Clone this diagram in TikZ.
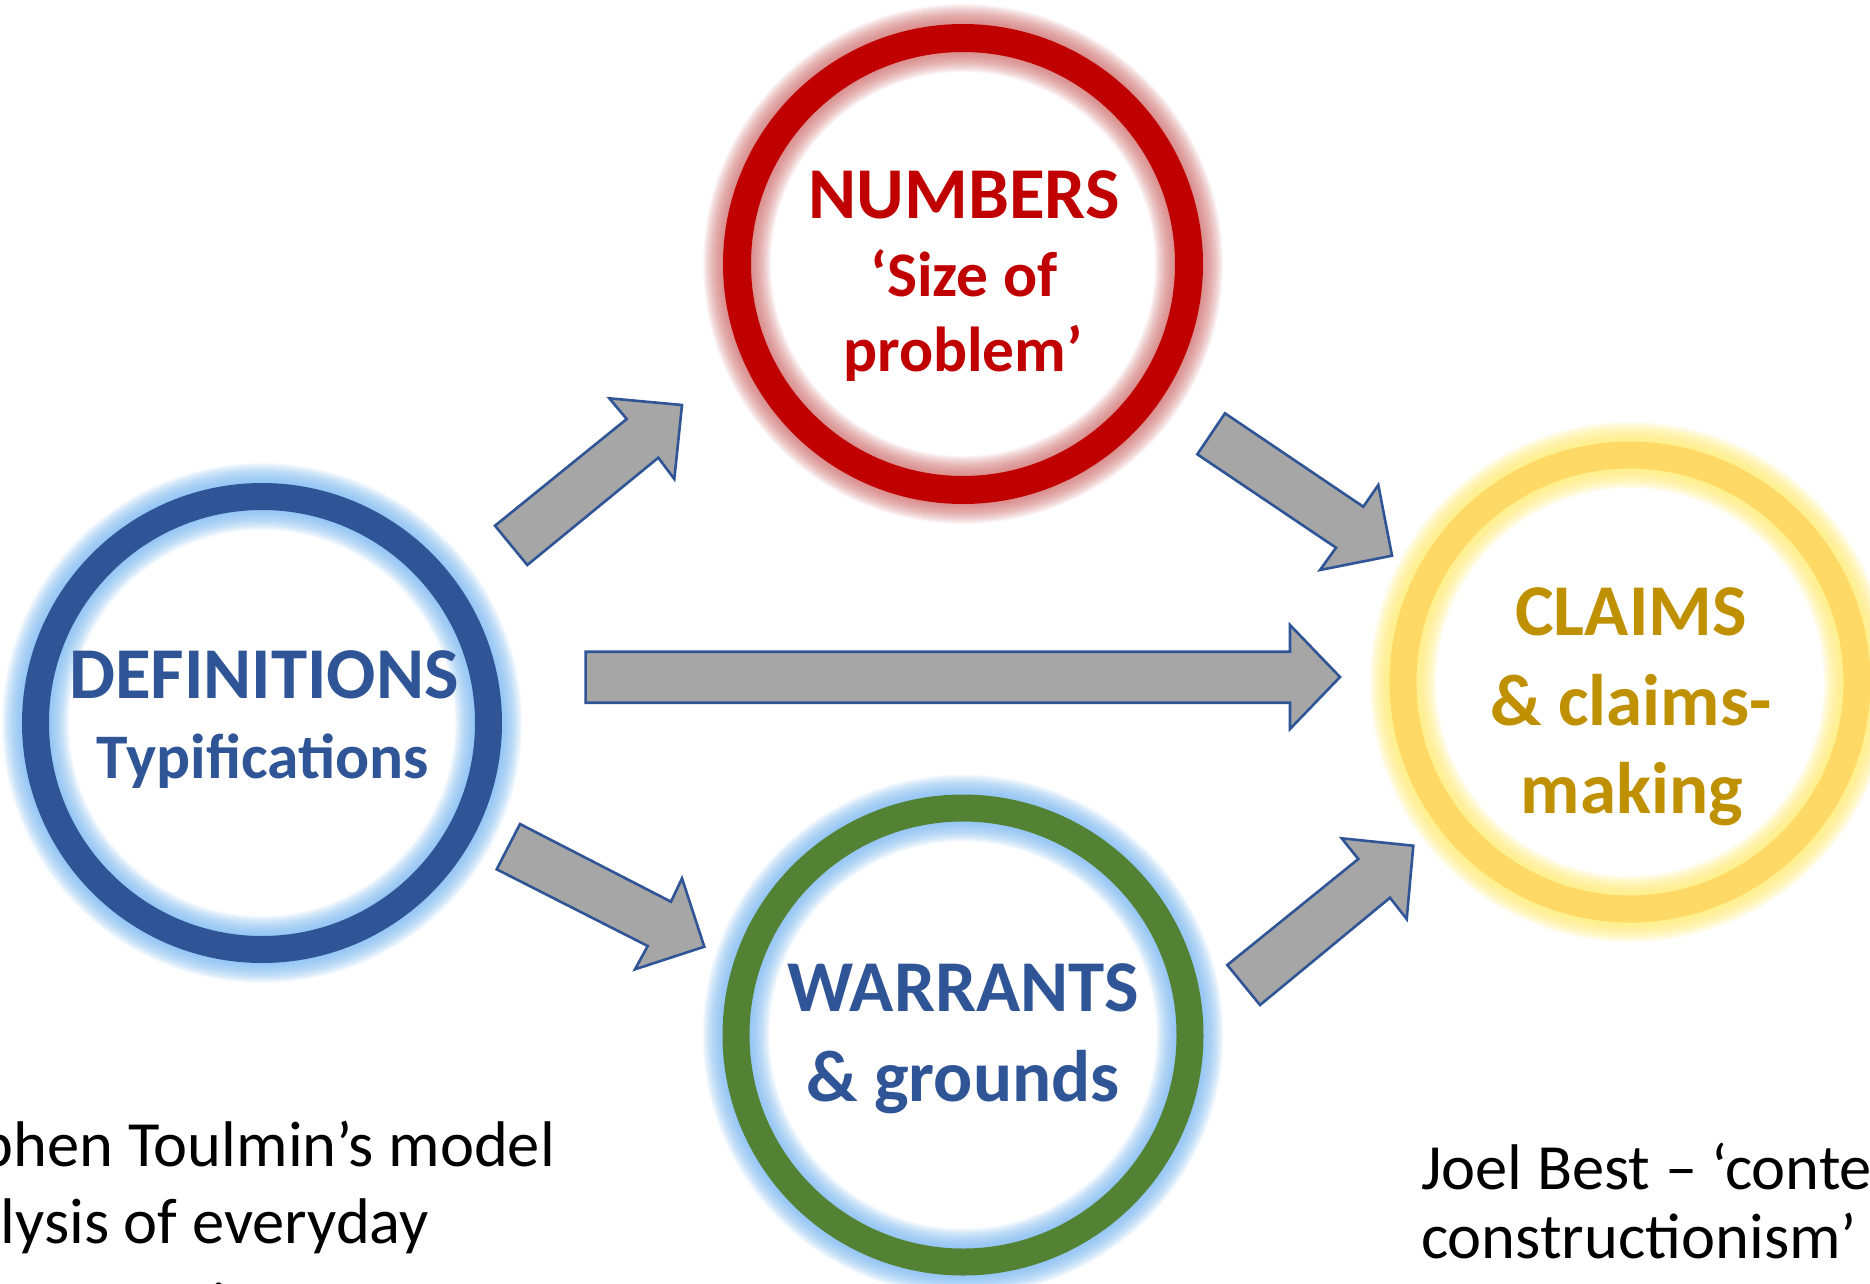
\documentclass[tikz,border=0pt]{standalone}
\usepackage{fontspec}
\setmainfont{Carlito}
\definecolor{dblue}{HTML}{2F5597}
\definecolor{dred}{HTML}{C00000}
\definecolor{dgreen}{HTML}{548235}
\definecolor{ringyellow}{HTML}{FFD966}
\definecolor{dgold}{HTML}{BF9000}
\definecolor{glowblue}{HTML}{7FBDF5}
\definecolor{glowred}{HTML}{D26A6A}
\definecolor{glowyellow}{HTML}{FFF07A}
\definecolor{agray}{HTML}{A6A6A6}
\tikzset{
  blockarrow/.style={fill=agray, draw=dblue, line width=2.6pt, line join=miter},
  bigword/.style={anchor=base, font=\fontsize{73}{80}\selectfont\bfseries, inner sep=0pt},
  smallword/.style={anchor=base, font=\fontsize{63.5}{70}\selectfont\bfseries, inner sep=0pt},
  note/.style={anchor=base west, font=\fontsize{64.5}{75}\selectfont, inner sep=0pt},
}
\newcommand\glowring[6]{%
  \foreach \g in {1,...,20}{\draw[#5, draw opacity=#6, line width={#3+2*\g}] (#1) circle (#2);}
  \draw[#4, line width=#3] (#1) circle (#2);
}
\begin{document}
\begin{tikzpicture}[x=1pt,y=-1pt]
\useasboundingbox (0,0) rectangle (1870,1283);
\clip (0,0) rectangle (1870,1283);
\fill[white] (0,0) rectangle (1870,1283);

% circle centres
\coordinate (def) at (262,723);
\coordinate (num) at (963,264);
\coordinate (cla) at (1630,682);
\coordinate (war) at (963,1035);

% rings with glow
\glowring{def}{226.5}{27}{dblue}{glowblue}{0.07}
\glowring{num}{226}{28}{dred}{glowred}{0.06}
\glowring{cla}{227}{27}{ringyellow}{glowyellow}{0.08}
\glowring{war}{227}{27}{dgreen}{glowblue}{0.07}

% block arrows
\draw[blockarrow] (495,525.7) -- (626.7,419) -- (609.3,398.3) -- (682,405)
  -- (674.3,479) -- (658.3,457.7) -- (527.3,565) -- cycle;
\draw[blockarrow] (1225,413.3) -- (1363.3,506.7) -- (1378.3,485) -- (1392,555.7)
  -- (1320,570) -- (1336,547.7) -- (1197.3,454.3) -- cycle;
\draw[blockarrow] (585.6,651.7) -- (1290,651.7) -- (1290,625) -- (1340,677)
  -- (1290,729) -- (1290,702.7) -- (585.6,702.7) -- cycle;
\draw[blockarrow] (520,824) -- (671,901.7) -- (682,878.3) -- (704.3,946.7)
  -- (635,969.3) -- (647.7,946) -- (496.7,869.3) -- cycle;
\draw[blockarrow] (1227.3,965) -- (1358.3,859) -- (1341.7,838.3) -- (1413.3,845.7)
  -- (1406.7,919) -- (1390,897.7) -- (1260,1005) -- cycle;

% circle texts
\node[bigword, text=dblue] (deft1) at (264,698.3) {DEFINITIONS};
\node[smallword, text=dblue] (deft2) at (263,778.3) {Typifications};
\node[bigword, text=dred] (numt1) at (964,218.3) {NUMBERS};
\node[smallword, text=dred] (numt2) at (964,296.7) {‘Size of};
\node[smallword, text=dred] (numt3) at (963,371.7) {problem’};
\node[bigword, text=dgold] (clat1) at (1631,635) {CLAIMS};
\node[bigword, text=dgold] (clat2) at (1631,725) {\& claims-};
\node[bigword, text=dgold] (clat3) at (1632,813.3) {making};
\node[bigword, text=dblue] (wart1) at (963,1011.7) {WARRANTS};
\node[bigword, text=dblue] (wart2) at (963,1101.7) {\& grounds};

% side notes
\node[note] (lt1) at (-103,1166) {Stephen Toulmin’s model};
\node[note] (lt2) at (-95,1243) {analysis of everyday};
\node[note] (lt3) at (-95,1327) {argumentation};
\node[note] (rt1) at (1421,1189) {Joel Best – ‘contextual};
\node[note] (rt2) at (1421,1258) {constructionism’};
\end{tikzpicture}
\end{document}
